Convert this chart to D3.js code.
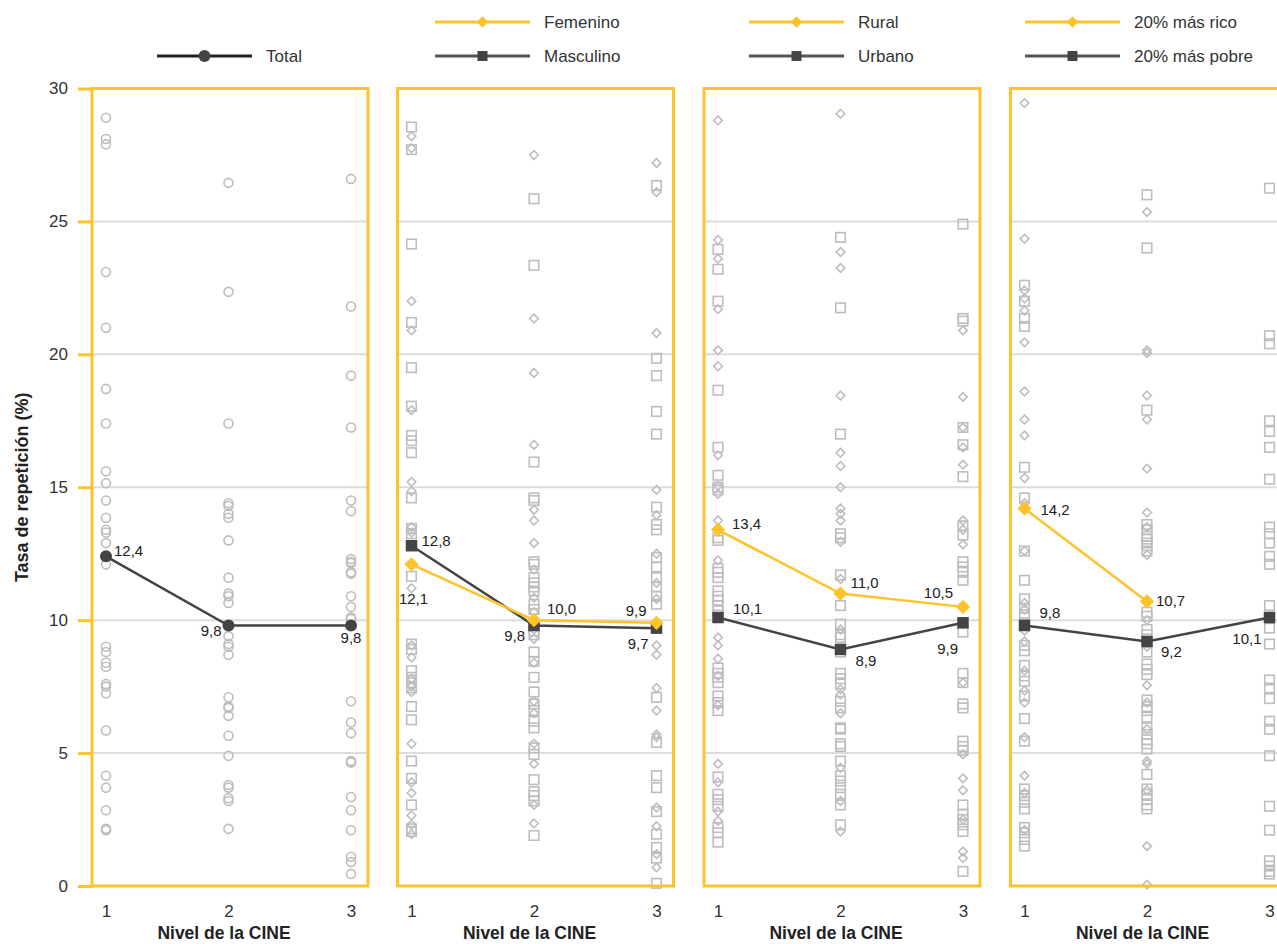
<!DOCTYPE html>
<html><head><meta charset="utf-8">
<script src="https://cdn.jsdelivr.net/npm/d3@7"></script>
<style>
body{margin:0;background:#fff;}
text{font-family:"Liberation Sans",Arial,sans-serif;}
</style></head>
<body><svg id="c" width="1277" height="944"></svg>
<script>
// ---------- DATA ----------
const levels = [1, 2, 3];
const yTicks = [0, 5, 10, 15, 20, 25, 30];

const totalMeans = [12.4, 9.8, 9.8];
const femMeans   = [12.1, 10.0, 9.9];
const mascMeans  = [12.8, 9.8, 9.7];
const ruralMeans = [13.4, 11.0, 10.5];
const urbanMeans = [10.1, 8.9, 9.9];
const richMeans  = [14.2, 10.7, null];
const poorMeans  = [9.8, 9.2, 10.1];

const totalLabels = ["12,4", "9,8", "9,8"];
const femLabels   = ["12,1", "10,0", "9,9"];
const mascLabels  = ["12,8", "9,8", "9,7"];
const ruralLabels = ["13,4", "11,0", "10,5"];
const urbanLabels = ["10,1", "8,9", "9,9"];
const richLabels  = ["14,2", "10,7", ""];
const poorLabels  = ["9,8", "9,2", "10,1"];

// country values per CINE level
const totalPts = [
  [28.9, 28.1, 27.9, 23.1, 21.0, 18.7, 17.4, 15.6, 15.15, 14.5, 13.85, 13.4, 13.3, 12.9, 12.1, 9.0, 8.8, 8.4, 8.25, 7.6, 7.5, 7.25, 5.85, 4.15, 3.7, 2.85, 2.15, 2.1],
  [26.45, 22.35, 17.4, 14.4, 14.3, 14.0, 13.85, 13.0, 11.6, 11.0, 10.9, 10.65, 9.4, 9.1, 9.0, 8.7, 7.1, 6.75, 6.7, 6.4, 5.65, 4.9, 3.8, 3.7, 3.3, 3.2, 2.15],
  [26.6, 21.8, 19.2, 17.25, 14.5, 14.1, 12.3, 12.2, 12.15, 11.8, 11.75, 10.9, 10.5, 10.1, 10.05, 6.95, 6.15, 5.75, 4.7, 4.65, 3.35, 2.85, 2.1, 1.1, 0.9, 0.45]
];
const femPts = [
  [28.2, 27.75, 22.0, 20.9, 17.9, 15.2, 14.85, 13.5, 13.3, 11.2, 9.05, 8.6, 7.8, 7.5, 7.3, 5.35, 3.9, 3.5, 2.65, 2.3, 1.95],
  [27.5, 21.35, 19.3, 16.6, 14.15, 13.75, 12.9, 11.9, 10.85, 10.3, 9.65, 9.3, 8.4, 6.95, 6.5, 5.35, 4.6, 3.05, 2.35],
  [27.2, 26.1, 20.8, 14.9, 13.95, 12.5, 11.4, 10.8, 9.05, 8.7, 7.45, 6.6, 5.7, 5.6, 2.95, 2.25, 1.2, 0.7]
];
const mascPts = [
  [28.55, 27.7, 24.15, 21.2, 19.5, 18.05, 16.95, 16.75, 16.3, 14.6, 13.45, 13.25, 11.65, 9.1, 8.9, 8.1, 7.85, 7.65, 7.45, 6.75, 6.25, 4.7, 4.05, 3.05, 2.15, 2.05],
  [25.85, 23.35, 15.95, 14.6, 14.5, 12.2, 12.1, 11.6, 11.4, 11.25, 11.1, 10.6, 10.4, 9.6, 9.45, 8.8, 8.45, 7.85, 7.3, 6.85, 6.6, 6.2, 5.95, 5.2, 4.95, 4.0, 3.55, 3.4, 3.2, 1.9],
  [26.35, 19.85, 19.2, 17.85, 17.0, 14.25, 13.6, 13.4, 12.35, 12.0, 11.6, 11.25, 10.9, 10.6, 7.1, 5.4, 4.15, 3.7, 2.8, 1.95, 1.45, 1.05, 0.1]
];
const ruralPts = [
  [28.8, 24.3, 23.6, 21.7, 20.15, 19.55, 16.2, 15.05, 14.75, 13.75, 12.25, 9.35, 9.05, 8.55, 7.9, 6.8, 4.6, 3.9, 2.8, 2.45],
  [29.05, 23.85, 23.25, 18.45, 16.3, 15.8, 15.0, 14.2, 14.0, 13.75, 12.95, 11.55, 9.65, 7.4, 7.2, 6.5, 4.45, 3.2, 2.05],
  [20.9, 18.4, 17.25, 16.5, 15.85, 13.75, 13.4, 12.85, 7.65, 4.95, 4.05, 3.6, 2.5, 1.3, 1.05]
];
const urbanPts = [
  [23.95, 23.2, 22.0, 18.65, 16.5, 15.45, 15.0, 14.9, 13.1, 13.0, 11.95, 11.8, 11.6, 11.1, 10.9, 10.75, 10.55, 10.35, 8.2, 8.0, 7.85, 7.65, 7.15, 6.9, 6.6, 4.1, 3.45, 3.25, 3.0, 2.2, 2.0, 1.65],
  [24.4, 21.75, 17.0, 13.25, 13.1, 11.7, 10.55, 9.85, 9.45, 9.35, 8.8, 8.0, 7.8, 7.6, 6.95, 6.7, 5.95, 5.9, 5.35, 5.25, 4.7, 4.15, 3.95, 3.7, 3.45, 3.05, 2.3],
  [24.9, 21.35, 21.25, 17.25, 16.6, 15.4, 13.55, 13.2, 12.2, 12.0, 11.8, 11.5, 9.55, 8.0, 7.65, 6.85, 6.7, 5.45, 5.25, 5.1, 3.05, 2.7, 2.5, 2.3, 2.05, 0.55]
];
const richPts = [
  [29.45, 24.35, 22.4, 22.1, 21.65, 20.45, 18.6, 17.55, 16.95, 15.35, 14.4, 12.6, 10.65, 10.4, 9.6, 9.2, 8.1, 7.35, 6.9, 5.6, 4.15, 3.5, 2.1],
  [25.35, 20.15, 20.05, 18.45, 17.55, 15.7, 14.05, 13.5, 12.45, 10.0, 9.0, 7.55, 6.9, 5.9, 4.7, 4.6, 3.6, 1.5, 0.05],
  []
];
const poorPts = [
  [22.6, 22.0, 21.35, 21.05, 15.75, 14.6, 12.6, 11.5, 10.8, 10.45, 10.2, 9.9, 9.05, 8.85, 8.3, 7.9, 7.7, 7.15, 6.3, 5.45, 3.65, 3.4, 3.15, 2.9, 2.2, 2.0, 1.75, 1.5],
  [26.0, 24.0, 17.9, 13.6, 13.4, 13.15, 13.05, 12.9, 12.8, 12.6, 10.3, 10.15, 9.65, 9.45, 8.8, 8.35, 8.15, 7.95, 7.0, 6.75, 6.6, 6.35, 5.95, 5.7, 5.5, 5.35, 5.15, 4.2, 3.65, 3.45, 3.25, 3.05, 2.9],
  [26.25, 20.7, 20.4, 17.5, 17.1, 16.5, 15.3, 13.5, 13.25, 12.9, 12.4, 12.1, 10.55, 9.7, 9.1, 7.75, 7.45, 7.05, 6.2, 5.9, 4.9, 3.0, 2.1, 0.95, 0.75, 0.55, 0.45]
];

// ---------- STYLE / LAYOUT ----------
const YEL = "#fec32a", DARK = "#444444", GRID = "#dcdcdc", PT = "#bdbdbd", TXT = "#333";
const panelLeft = [92, 397.5, 704, 1010.5];
const legendOffset = [65, 37.5, 45, 14.5];
const panelW = 276;
const yTop = 88.5, yBottom = 886;

const svg = d3.select("#c");
const y = d3.scaleLinear().domain([0, 30]).range([yBottom, yTop]);

// label offsets [dx, dy(baseline), anchor]
const panels = [
  {legend: [{name: "Total", color: "#222", mcolor: DARK, shape: "circle", ly: 56}],
   series: [{pts: totalPts, shape: "circle"}],
   lines: [{means: totalMeans, labels: totalLabels, color: DARK, shape: "circle",
            pos: [[8, 0, "start"], [-7, 11, "end"], [0, 18, "middle"]]}]},
  {legend: [{name: "Femenino", color: YEL, mcolor: YEL, shape: "diamond", ly: 22},
            {name: "Masculino", color: "#555", mcolor: DARK, shape: "square", ly: 56}],
   series: [{pts: femPts, shape: "diamond"}, {pts: mascPts, shape: "square"}],
   lines: [{means: mascMeans, labels: mascLabels, color: DARK, shape: "square",
            pos: [[10, 0, "start"], [-9, 16, "end"], [-8, 21, "end"]]},
           {means: femMeans, labels: femLabels, color: YEL, shape: "diamond",
            pos: [[2, 40, "middle"], [13, -6, "start"], [-10, -7, "end"]]}]},
  {legend: [{name: "Rural", color: YEL, mcolor: YEL, shape: "diamond", ly: 22},
            {name: "Urbano", color: "#555", mcolor: DARK, shape: "square", ly: 56}],
   series: [{pts: ruralPts, shape: "diamond"}, {pts: urbanPts, shape: "square"}],
   lines: [{means: urbanMeans, labels: urbanLabels, color: DARK, shape: "square",
            pos: [[15, -4, "start"], [15, 17, "start"], [-5, 31, "end"]]},
           {means: ruralMeans, labels: ruralLabels, color: YEL, shape: "diamond",
            pos: [[14, -1, "start"], [10, -6, "start"], [-10, -9, "end"]]}]},
  {legend: [{name: "20% más rico", color: YEL, mcolor: YEL, shape: "diamond", ly: 22},
            {name: "20% más pobre", color: "#555", mcolor: DARK, shape: "square", ly: 56}],
   series: [{pts: richPts, shape: "diamond"}, {pts: poorPts, shape: "square"}],
   lines: [{means: poorMeans, labels: poorLabels, color: DARK, shape: "square",
            pos: [[15, -7, "start"], [14, 16, "start"], [-8, 26, "end"]]},
           {means: richMeans, labels: richLabels, color: YEL, shape: "diamond",
            pos: [[16, 6, "start"], [9, 4, "start"], [0, 0, "start"]]}]}
];

function drawMarker(g, shape, cx, cy, size, fill, stroke, sw) {
  if (shape === "circle") {
    g.append("circle").attr("cx", cx).attr("cy", cy).attr("r", size / 2)
      .attr("fill", fill).attr("stroke", stroke).attr("stroke-width", sw);
  } else if (shape === "square") {
    g.append("rect").attr("x", cx - size / 2).attr("y", cy - size / 2)
      .attr("width", size).attr("height", size)
      .attr("fill", fill).attr("stroke", stroke).attr("stroke-width", sw);
  } else {
    const h = size / 2 * 1.15;
    g.append("path").attr("d", `M${cx},${cy - h}L${cx + h},${cy}L${cx},${cy + h}L${cx - h},${cy}Z`)
      .attr("fill", fill).attr("stroke", stroke).attr("stroke-width", sw);
  }
}

// y axis (left of first panel)
const yAxisG = svg.append("g").attr("transform", `translate(${panelLeft[0]},0)`);
yAxisG.call(d3.axisLeft(y).tickValues(yTicks).tickSize(14).tickPadding(10).tickFormat(d3.format("d")))
  .call(g => g.select(".domain").remove())
  .call(g => g.selectAll(".tick line").attr("stroke", YEL).attr("stroke-width", 3))
  .call(g => g.selectAll(".tick text").attr("fill", TXT).style("font-size", "17px")
     .style("font-family", "'Liberation Sans',Arial,sans-serif"));

svg.append("text").attr("transform", `translate(28,${(yTop + yBottom) / 2}) rotate(-90)`)
  .attr("text-anchor", "middle").attr("fill", "#222").style("font-size", "18px")
  .style("font-weight", "bold").text("Tasa de repetición (%)");

panels.forEach((p, i) => {
  const L = panelLeft[i];
  const x = d3.scaleLinear().domain([1, 3]).range([L + 14, L + 259]);
  const g = svg.append("g");

  // gridlines
  g.selectAll("line.grid").data(yTicks.filter(t => t > 0 && t < 30)).enter().append("line")
    .attr("x1", L).attr("x2", L + panelW).attr("y1", d => y(d)).attr("y2", d => y(d))
    .attr("stroke", GRID).attr("stroke-width", 2);

  // scatter points
  p.series.forEach(s => {
    s.pts.forEach((arr, li) => {
      arr.forEach(v => {
        const sz = s.shape === "circle" ? 9 : (s.shape === "square" ? 9.5 : 7.5);
        drawMarker(g, s.shape, x(levels[li]), y(v), sz, "none", PT, 1.6);
      });
    });
  });

  // panel frame
  g.append("rect").attr("x", L).attr("y", yTop).attr("width", panelW).attr("height", yBottom - yTop)
    .attr("fill", "none").attr("stroke", YEL).attr("stroke-width", 3);

  // mean lines
  p.lines.forEach(ln => {
    const pts = levels.map((l, k) => ({l, v: ln.means[k], lab: ln.labels[k], pos: ln.pos[k]}))
      .filter(d => d.v !== null);
    g.append("path").datum(pts)
      .attr("d", d3.line().x(d => x(d.l)).y(d => y(d.v)))
      .attr("fill", "none").attr("stroke", ln.color).attr("stroke-width", 2.5);
    pts.forEach(d => {
      const sz = ln.shape === "circle" ? 12 : (ln.shape === "square" ? 11.5 : 12.5);
      const px = x(d.l), py = y(d.v);
      drawMarker(g, ln.shape, px, py, sz, ln.color, "none", 0);
      if (d.lab) g.append("text").attr("x", px + d.pos[0]).attr("y", py + d.pos[1])
        .attr("text-anchor", d.pos[2])
        .attr("fill", "#222").style("font-size", "15px").text(d.lab);
    });
  });

  // x axis
  const xAxisG = g.append("g").attr("transform", `translate(0,${yBottom})`);
  xAxisG.call(d3.axisBottom(x).tickValues(levels).tickSize(0).tickPadding(19).tickFormat(d3.format("d")))
    .call(a => a.select(".domain").remove())
    .call(a => a.selectAll(".tick text").attr("fill", TXT).style("font-size", "17px")
       .style("font-family", "'Liberation Sans',Arial,sans-serif"));
  g.append("text").attr("x", L + 132).attr("y", 939).attr("text-anchor", "middle")
    .attr("fill", "#222").style("font-size", "17.5px").style("font-weight", "bold").text("Nivel de la CINE");

  // legend
  p.legend.forEach(lg => {
    const lx0 = L + legendOffset[i], lx1 = lx0 + 95;
    g.append("line").attr("x1", lx0).attr("x2", lx1).attr("y1", lg.ly).attr("y2", lg.ly)
      .attr("stroke", lg.color).attr("stroke-width", 3);
    drawMarker(g, lg.shape, (lx0 + lx1) / 2, lg.ly, lg.shape === "circle" ? 12 : 10, lg.mcolor, "none", 0);
    g.append("text").attr("x", lx1 + 14).attr("y", lg.ly + 6).attr("fill", TXT)
      .style("font-size", "17px").text(lg.name);
  });
});
</script></body></html>
